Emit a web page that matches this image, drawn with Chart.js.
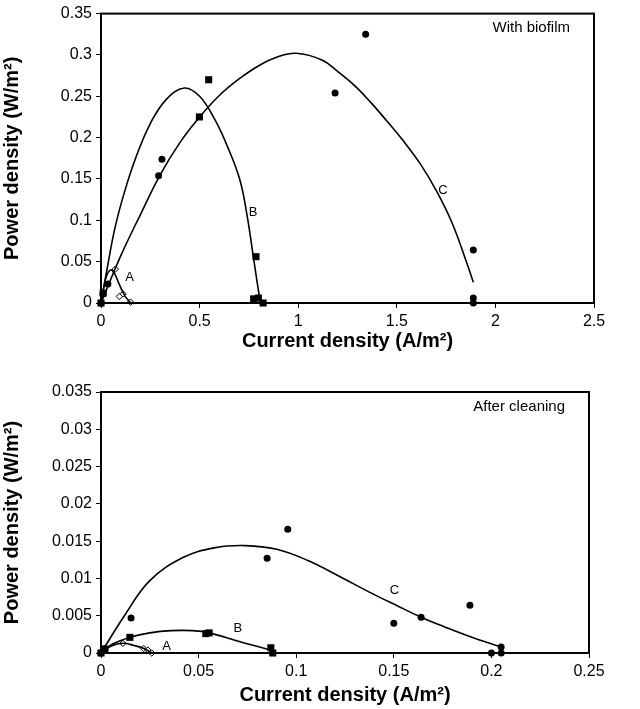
<!DOCTYPE html>
<html lang="en">

<head>
    <meta charset="UTF-8">
    <script src="https://cdn.jsdelivr.net/npm/chart.js"></script>
    <title>Power density</title>
    <style>
        body { margin: 0; background: #fff; }
        .painel { position: absolute; left: 0; width: 640px; }
    </style>
</head>

<body>
    <div class="painel" style="top: 0; height: 355px;"><canvas id="graficoBiofilm"></canvas></div>
    <div class="painel" style="top: 355px; height: 354px;"><canvas id="graficoLimpo"></canvas></div>
</body>

</html>

<script>
    // ---- with biofilm (top) ----
    var topXTicks = [0, 0.5, 1, 1.5, 2, 2.5]
    var topYTicks = [0, 0.05, 0.1, 0.15, 0.2, 0.25, 0.3, 0.35]

    var topC_I = [0, 0.01, 0.035, 0.292, 0.309, 1.187, 1.342, 1.888, 1.888, 1.888]
    var topC_P = [0, 0.011, 0.023, 0.154, 0.174, 0.254, 0.325, 0.064, 0.006, 0]
    var topB_I = [0, 0.011, 0.499, 0.546, 0.786, 0.774, 0.798, 0.822]
    var topB_P = [0, 0.012, 0.225, 0.270, 0.056, 0.005, 0.006, 0]
    var topA_I = [0, 0.073, 0.093, 0.112, 0.150]
    var topA_P = [0, 0.041, 0.008, 0.011, 0.001]

    // fitted curves
    var fitTopC_I = [0, 0.1, 0.2, 0.3, 0.4, 0.5, 0.6, 0.7, 0.8, 0.9, 0.99, 1.12, 1.2, 1.29, 1.37, 1.45, 1.53, 1.62, 1.7, 1.78, 1.86, 1.888]
    var fitTopC_P = [0, 0.057, 0.107, 0.155, 0.194, 0.225, 0.251, 0.271, 0.287, 0.298, 0.302, 0.294, 0.280, 0.262, 0.242, 0.220, 0.197, 0.168, 0.136, 0.097, 0.045, 0.025]
    var fitTopB_I = [0, 0.03, 0.07, 0.12, 0.18, 0.25, 0.33, 0.422, 0.5, 0.577, 0.64, 0.703, 0.74, 0.77, 0.79, 0.808]
    var fitTopB_P = [0, 0.04, 0.09, 0.135, 0.178, 0.217, 0.246, 0.260, 0.25, 0.222, 0.19, 0.15, 0.107, 0.06, 0.028, 0]
    var fitTopA_I = [0, 0.015, 0.03, 0.05, 0.07, 0.09, 0.12, 0.15]
    var fitTopA_P = [0, 0.02, 0.034, 0.04, 0.035, 0.024, 0.009, 0]

    var topLabels = [['A', 0.145, 0.031], ['B', 0.771, 0.110], ['C', 1.734, 0.136]]

    // ---- after cleaning (bottom) ----
    var botXTicks = [0, 0.05, 0.1, 0.15, 0.2, 0.25]
    var botYTicks = [0, 0.005, 0.01, 0.015, 0.02, 0.025, 0.03, 0.035]

    var botC_I = [0, 0.002, 0.0154, 0.0851, 0.0957, 0.15, 0.164, 0.189, 0.2, 0.205, 0.205]
    var botC_P = [0, 0.0006, 0.0047, 0.0127, 0.0166, 0.004, 0.0048, 0.0064, 0, 0.0008, 0]
    var botB_I = [0, 0.002, 0.0148, 0.0537, 0.0554, 0.087, 0.088]
    var botB_P = [0, 0.0005, 0.0021, 0.0026, 0.0027, 0.0007, 0]
    var botA_I = [0, 0.0112, 0.0218, 0.024, 0.026]
    var botA_P = [0, 0.0013, 0.0006, 0.0004, 0]

    var fitBotC_I = [0, 0.012, 0.025, 0.042, 0.058, 0.074, 0.09, 0.106, 0.122, 0.138, 0.152, 0.164, 0.176, 0.19, 0.205]
    var fitBotC_P = [0, 0.005, 0.0097, 0.0128, 0.0141, 0.0144, 0.0139, 0.0124, 0.0103, 0.0081, 0.0063, 0.0048, 0.0035, 0.0021, 0.0008]
    var fitBotB_I = [0, 0.006, 0.0148, 0.025, 0.036, 0.047, 0.0554, 0.0713, 0.087]
    var fitBotB_P = [0, 0.0012, 0.0021, 0.0027, 0.003, 0.003, 0.0027, 0.0015, 0.0004]
    var fitBotA_I = [0, 0.005, 0.0112, 0.017, 0.022, 0.026]
    var fitBotA_P = [0, 0.0009, 0.0013, 0.001, 0.0006, 0]

    var botLabels = [['A', 0.0336, 0.0009], ['B', 0.0701, 0.0033], ['C', 0.1503, 0.0084]]

    var fonte = '"Liberation Sans", Arial, sans-serif'

    function pares(xs, ys) {
        var out = []
        for (var i = 0; i < xs.length; i++) out.push({ x: xs[i], y: ys[i] })
        return out
    }

    function curva(xs, ys) {
        return {
            data: pares(xs, ys), showLine: true, pointRadius: 0, borderColor: '#000',
            borderWidth: 1.6, tension: 0.4, clip: false
        }
    }

    function pontos(xs, ys, estilo) {
        var d = { data: pares(xs, ys), showLine: false, borderColor: '#000', clip: false }
        if (estilo == 'circle') { d.pointStyle = 'circle'; d.pointRadius = 3.5; d.backgroundColor = '#000'; d.borderWidth = 0 }
        if (estilo == 'rect') { d.pointStyle = 'rect'; d.pointRadius = 5; d.backgroundColor = '#000'; d.borderWidth = 0 }
        if (estilo == 'diamond') { d.pointStyle = 'rectRot'; d.pointRadius = 3.2; d.backgroundColor = '#fff'; d.borderWidth = 1 }
        return d
    }

    function extras(labels, titulo) {
        return {
            id: 'extras',
            afterDraw: function (chart) {
                var ctx = chart.ctx, a = chart.chartArea
                var xs = chart.scales.x, ys = chart.scales.y
                ctx.save()
                ctx.strokeStyle = '#000'
                ctx.lineWidth = 2
                ctx.strokeRect(a.left, a.top, a.right - a.left, a.bottom - a.top)
                ctx.fillStyle = '#000'
                ctx.font = '13px ' + fonte
                ctx.textAlign = 'center'
                ctx.textBaseline = 'middle'
                labels.forEach(function (l) {
                    ctx.fillText(l[0], xs.getPixelForValue(l[1]), ys.getPixelForValue(l[2]))
                })
                ctx.font = '15px ' + fonte
                ctx.textAlign = 'right'
                ctx.textBaseline = 'top'
                ctx.fillText(titulo, a.right - 24, a.top + 7)
                ctx.restore()
            }
        }
    }

    function eixo(ticks, titulo, largura, ehX) {
        var s = {
            type: 'linear', min: ticks[0], max: ticks[ticks.length - 1],
            afterBuildTicks: function (sc) { sc.ticks = ticks.map(function (v) { return { value: v } }) },
            ticks: {
                color: '#000', font: { family: fonte, size: 16 }, padding: 4, maxRotation: 0, autoSkip: false,
                callback: function (v) { return String(v) }
            },
            grid: { display: true, drawOnChartArea: false, drawTicks: true, tickLength: 5, color: '#000', lineWidth: 1 },
            border: { display: true, color: '#000', width: 2 },
            title: {
                display: true, text: titulo, color: '#000',
                font: { family: fonte, size: 20, weight: 'bold' }, padding: { top: 0, bottom: 2 }
            }
        }
        if (ehX) s.afterFit = function (sc) { sc.height = largura }
        else s.afterFit = function (sc) { sc.width = largura }
        return s
    }

    function montar(canvas, dados, xt, yt, padTop, padRight, xH, labels, titulo) {
        return new Chart(canvas, {
            type: 'scatter',
            data: { datasets: dados },
            options: {
                responsive: true, maintainAspectRatio: false, animation: false,
                layout: { padding: { top: padTop, right: padRight, left: 0, bottom: 0 } },
                plugins: { legend: { display: false }, tooltip: { enabled: false } },
                scales: {
                    x: eixo(xt, 'Current density (A/m\u00b2)', xH, true),
                    y: eixo(yt, 'Power density (W/m\u00b2)', 101, false)
                }
            },
            plugins: [extras(labels, titulo)]
        })
    }

    montar(graficoBiofilm, [
        curva(fitTopC_I, fitTopC_P), curva(fitTopB_I, fitTopB_P), curva(fitTopA_I, fitTopA_P),
        pontos(topC_I, topC_P, 'circle'), pontos(topB_I, topB_P, 'rect'), pontos(topA_I, topA_P, 'diamond')
    ], topXTicks, topYTicks, 13, 46, 52, topLabels, 'With biofilm')

    montar(graficoLimpo, [
        curva(fitBotC_I, fitBotC_P), curva(fitBotB_I, fitBotB_P), curva(fitBotA_I, fitBotA_P),
        pontos(botC_I, botC_P, 'circle'), pontos(botB_I, botB_P, 'rect'), pontos(botA_I, botA_P, 'diamond')
    ], botXTicks, botYTicks, 37, 51, 56, botLabels, 'After cleaning')
</script>
